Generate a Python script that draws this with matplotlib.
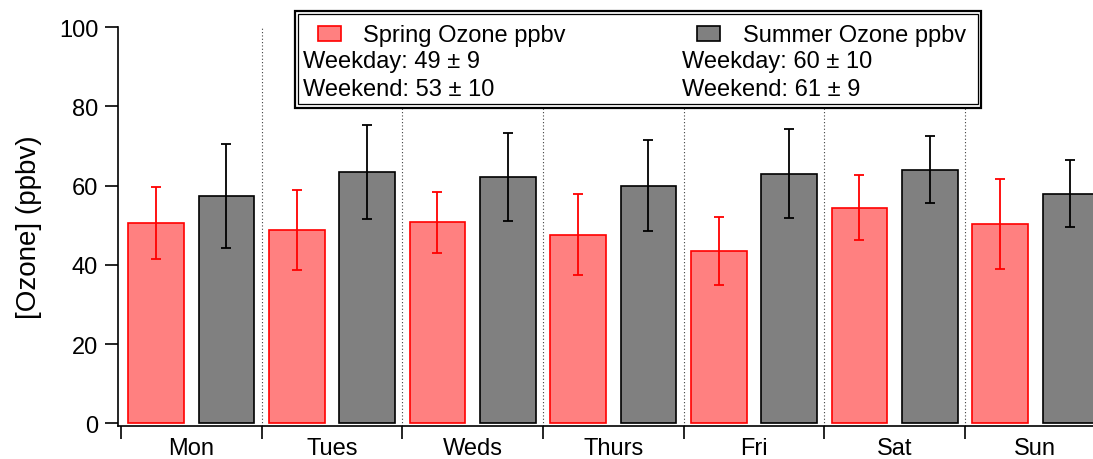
import matplotlib.pyplot as plt
import numpy as np
from matplotlib.patches import Rectangle

plt.rcParams['font.family'] = ['Liberation Sans', 'DejaVu Sans']

days = ['Mon', 'Tues', 'Weds', 'Thurs', 'Fri', 'Sat', 'Sun']
spring = [50.5, 48.8, 50.8, 47.6, 43.5, 54.4, 50.3]
spring_err = [9.1, 10.0, 7.7, 10.2, 8.7, 8.2, 11.3]
summer = [57.4, 63.5, 62.3, 60.0, 63.0, 64.0, 58.0]
summer_err = [13.1, 11.8, 11.1, 11.5, 11.2, 8.5, 8.4]

spring_label = 'Spring Ozone ppbv'
summer_label = 'Summer Ozone ppbv'
spring_stats = ['Weekday: 49 \u00b1 9', 'Weekend: 53 \u00b1 10']
summer_stats = ['Weekday: 60 \u00b1 10', 'Weekend: 61 \u00b1 9']

W, H = 1093, 460
fs = 17

fig = plt.figure(figsize=(W / 100, H / 100), dpi=100)
ax = fig.add_axes([118.3 / W, (H - 427) / H, 1 - 118.3 / W, (427 - 28.3) / H])

x = np.arange(len(days))
bw = 0.396
ax.bar(x - 0.25, spring, bw, color='#ff8080', edgecolor='#ff0000', linewidth=1.2, zorder=2)
ax.bar(x + 0.25, summer, bw, color='#808080', edgecolor='black', linewidth=1.2, zorder=2)
ax.errorbar(x - 0.25, spring, yerr=spring_err, fmt='none', ecolor='#ff0000',
            elinewidth=1.3, capsize=3.6, capthick=1.3, zorder=3)
ax.errorbar(x + 0.25, summer, yerr=summer_err, fmt='none', ecolor='black',
            elinewidth=1.3, capsize=3.6, capthick=1.3, zorder=3)

# dotted separators between days
for b in np.arange(0.5, len(days) - 1, 1.0):
    ax.axvline(b, color='0.25', linestyle=(0, (1, 2)), linewidth=0.8, zorder=1)

ax.set_xticks(np.arange(-0.5, len(days), 1.0))
ax.set_xticklabels([])
ax.set_xticks(x, minor=True)
ax.set_xticklabels(days, minor=True, fontsize=fs)
ax.tick_params(axis='x', which='major', direction='out', length=9, width=1.2)
ax.tick_params(axis='x', which='minor', length=0, pad=8)

ax.set_yticks([0, 20, 40, 60, 80, 100])
ax.tick_params(axis='y', direction='out', length=9.5, width=1.2, labelsize=fs, pad=5)
ax.set_ylabel('[Ozone] (ppbv)', fontsize=fs + 3, labelpad=12)

# limits last, set_xticks would widen them otherwise
ax.set_xlim(-0.519, -0.5 + (W - 120.7) / 140.7)
ax.set_ylim(-0.7, 100)

for s in ['top', 'right']:
    ax.spines[s].set_visible(False)
for s in ['left', 'bottom']:
    ax.spines[s].set_linewidth(1.2)

# legend box with double border
def px(xp, yp):
    return xp / W, 1 - yp / H

x0, y0 = px(295, 109.3)
x1, y1 = px(981, 12.3)
fig.patches.append(Rectangle((x0, y0), x1 - x0, y1 - y0, transform=fig.transFigure,
                             facecolor='white', edgecolor='black', linewidth=1.6, zorder=5))
x0, y0 = px(298.5, 104.5)
x1, y1 = px(977.5, 15.2)
fig.patches.append(Rectangle((x0, y0), x1 - x0, y1 - y0, transform=fig.transFigure,
                             facecolor='white', edgecolor='black', linewidth=0.9, zorder=6))

for (lx, fc, ec) in [(318.3, '#ff8080', '#ff0000'), (697, '#808080', 'black')]:
    a, b = px(lx, 41.7)
    c, d = px(lx + 23, 27)
    fig.patches.append(Rectangle((a, b), c - a, d - b, transform=fig.transFigure,
                                 facecolor=fc, edgecolor=ec, linewidth=1.2, zorder=7))

fig.text(*px(363, 41.7), spring_label, fontsize=fs, va='baseline', zorder=8)
fig.text(*px(743, 41.7), summer_label, fontsize=fs, va='baseline', zorder=8)
for i, (t1, t2) in enumerate(zip(spring_stats, summer_stats)):
    yb = 68.3 + i * 28.2
    fig.text(*px(303, yb), t1, fontsize=fs, va='baseline', zorder=8)
    fig.text(*px(682, yb), t2, fontsize=fs, va='baseline', zorder=8)

fig.savefig('out.png', dpi=100)
